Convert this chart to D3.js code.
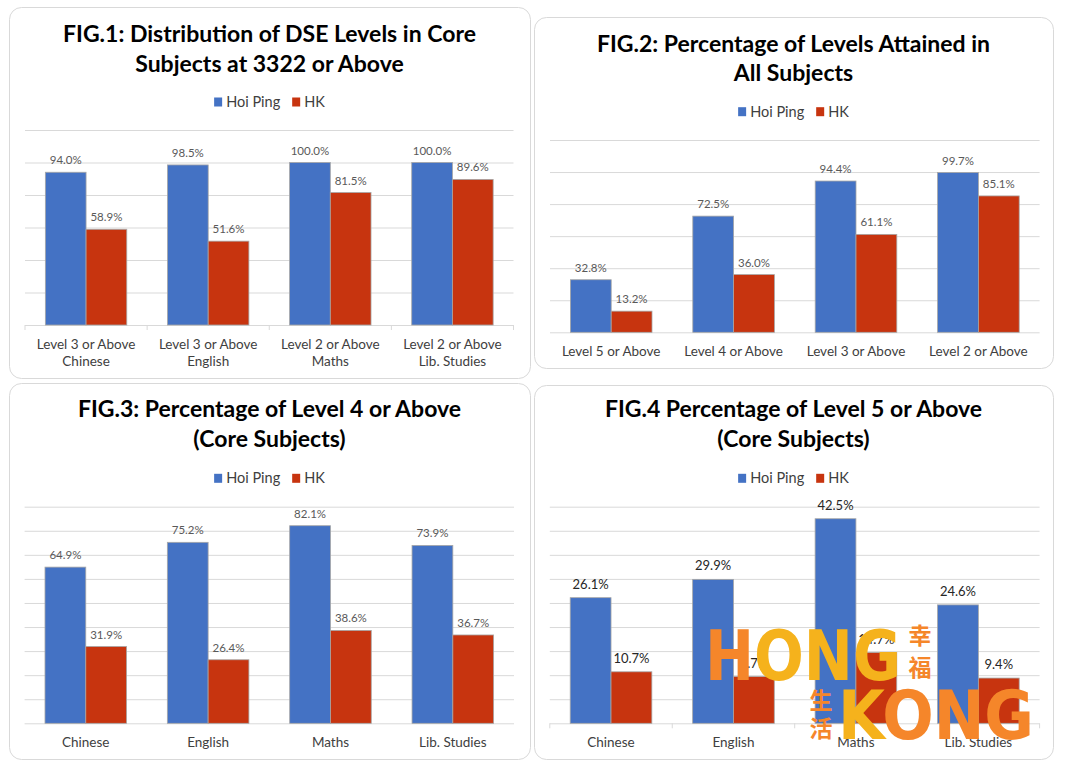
<!DOCTYPE html>
<html>
<head>
<meta charset="utf-8">
<script src="https://cdn.jsdelivr.net/npm/d3@7"></script>
<style>
  body { margin: 0; background: #fff; }
  svg { display: block; font-family: Lato, "Open Sans", sans-serif; }
</style>
</head>
<body>
<div id="chart"></div>
<script>
// ---- data ----
const seriesNames = ['Hoi Ping', 'HK'];

const fig1Categories = [
  ['Level 3 or Above', 'Chinese'],
  ['Level 3 or Above', 'English'],
  ['Level 2 or Above', 'Maths'],
  ['Level 2 or Above', 'Lib. Studies']
];
const fig1HoiPing = [94.0, 98.5, 100.0, 100.0];
const fig1HK = [58.9, 51.6, 81.5, 89.6];
const fig1Ticks = [0, 20, 40, 60, 80, 100, 120];

const fig2Categories = ['Level 5 or Above', 'Level 4 or Above', 'Level 3 or Above', 'Level 2 or Above'];
const fig2HoiPing = [32.8, 72.5, 94.4, 99.7];
const fig2HK = [13.2, 36.0, 61.1, 85.1];
const fig2Ticks = [0, 20, 40, 60, 80, 100, 120];

const subjects = ['Chinese', 'English', 'Maths', 'Lib. Studies'];
const fig3HoiPing = [64.9, 75.2, 82.1, 73.9];
const fig3HK = [31.9, 26.4, 38.6, 36.7];
const fig3Ticks = [0, 10, 20, 30, 40, 50, 60, 70, 80, 90];

const fig4HoiPing = [26.1, 29.9, 42.5, 24.6];
const fig4HK = [10.7, 9.7, 14.7, 9.4];
const fig4Ticks = [0, 5, 10, 15, 20, 25, 30, 35, 40, 45];

const BLUE = '#4472c4';
const RED = '#c7340f';

const svg = d3.select('#chart')
  .append('svg')
  .attr('width', 1065)
  .attr('height', 768);

const panels = [
  {
    box: [9, 7, 530, 378],
    title: ['FIG.1: Distribution of DSE Levels in Core', 'Subjects at 3322 or Above'],
    titleY: [41.7, 71.7], titleSize: 23,
    legendY: 102,
    plot: [25, 513.5, 130, 325],
    cats: fig1Categories, a: fig1HoiPing, b: fig1HK, ticks: fig1Ticks,
    catY: 349, catTicks: true, labelStyle: 'light'
  },
  {
    box: [534, 17, 1053, 368],
    title: ['FIG.2: Percentage of Levels Attained in', 'All Subjects'],
    titleY: [51.7, 80.7], titleSize: 23,
    legendY: 111.7,
    plot: [550, 1039.6, 140, 332.3],
    cats: fig2Categories, a: fig2HoiPing, b: fig2HK, ticks: fig2Ticks,
    catY: 355.5, catTicks: false, labelStyle: 'light'
  },
  {
    box: [9, 383, 530, 759],
    title: ['FIG.3: Percentage of Level 4 or Above', '(Core Subjects)'],
    titleY: [417, 446.7], titleSize: 23,
    legendY: 478.3,
    plot: [24.6, 514, 506.7, 723.3],
    cats: subjects, a: fig3HoiPing, b: fig3HK, ticks: fig3Ticks,
    catY: 746.8, catTicks: false, labelStyle: 'light'
  },
  {
    box: [534, 385, 1053, 759],
    title: ['FIG.4 Percentage of Level 5 or Above', '(Core Subjects)'],
    titleY: [417.3, 446.7], titleSize: 23,
    legendY: 478.3,
    plot: [549.8, 1039.6, 506.7, 723.3],
    cats: subjects, a: fig4HoiPing, b: fig4HK, ticks: fig4Ticks,
    catY: 746.8, catTicks: true, labelStyle: 'dark'
  }
];

panels.forEach(drawPanel);

function drawPanel(p) {
  const [bx0, by0, bx1, by1] = p.box;
  const g = svg.append('g');

  g.append('rect')
    .attr('x', bx0 + 0.5).attr('y', by0 + 0.5)
    .attr('width', bx1 - bx0).attr('height', by1 - by0)
    .attr('rx', 12).attr('ry', 12)
    .attr('fill', '#fff')
    .attr('stroke', '#d9d9d9')
    .attr('stroke-width', 1);

  const cx = (bx0 + bx1) / 2;

  // title
  p.title.forEach((line, i) => {
    g.append('text')
      .attr('x', cx).attr('y', p.titleY[i])
      .attr('text-anchor', 'middle')
      .attr('font-size', p.titleSize)
      .attr('font-weight', 'bold')
      .attr('fill', '#000')
      .text(line);
  });

  // legend
  const leg = g.append('g');
  let lx = 0;
  const colors = [BLUE, RED];
  seriesNames.forEach((name, i) => {
    leg.append('rect')
      .attr('x', lx).attr('y', p.legendY - 4.5)
      .attr('width', 8).attr('height', 9)
      .attr('fill', colors[i]);
    const t = leg.append('text')
      .attr('x', lx + 12).attr('y', p.legendY)
      .attr('dy', '0.35em')
      .attr('font-size', 14.5)
      .attr('fill', '#404040')
      .text(name);
    lx += 12 + t.node().getComputedTextLength() + 12;
  });
  const legW = lx - 12;
  leg.attr('transform', `translate(${cx - legW / 2},0)`);

  // scales
  const [x0, x1, yTop, yBase] = p.plot;
  const x = d3.scaleBand()
    .domain(d3.range(p.cats.length))
    .range([x0, x1])
    .padding(0);
  const xs = d3.scaleBand()
    .domain(seriesNames)
    .range([0, x.bandwidth()])
    .paddingInner(0)
    .paddingOuter(0.5);
  const y = d3.scaleLinear()
    .domain([0, d3.max(p.ticks)])
    .range([yBase, yTop]);

  // gridlines
  g.append('g')
    .attr('transform', `translate(${x0},0)`)
    .call(d3.axisLeft(y).tickValues(p.ticks).tickSize(-(x1 - x0)).tickFormat(''))
    .call(s => s.select('.domain').remove())
    .call(s => s.selectAll('line').attr('stroke', '#d9d9d9').attr('stroke-width', 1));

  // category boundary ticks
  if (p.catTicks) {
    g.append('g')
      .selectAll('line')
      .data(d3.range(p.cats.length + 1))
      .enter()
      .append('line')
      .attr('x1', d => x0 + d * x.step())
      .attr('x2', d => x0 + d * x.step())
      .attr('y1', yBase)
      .attr('y2', yBase + 5)
      .attr('stroke', '#d9d9d9');
  }

  // bars
  const series = [p.a, p.b];
  series.forEach((vals, si) => {
    const name = seriesNames[si];
    g.append('g')
      .selectAll('rect')
      .data(vals)
      .enter()
      .append('rect')
      .attr('x', (d, i) => x(i) + xs(name))
      .attr('y', d => y(d))
      .attr('width', xs.bandwidth())
      .attr('height', d => yBase - y(d))
      .attr('fill', colors[si])
      .attr('stroke', '#a6a6a6')
      .attr('stroke-width', 0.8);

    g.append('g')
      .selectAll('text')
      .data(vals)
      .enter()
      .append('text')
      .attr('x', (d, i) => x(i) + xs(name) + xs.bandwidth() / 2)
      .attr('y', d => y(d) - (p.labelStyle === 'dark' ? 9 : 8))
      .attr('text-anchor', 'middle')
      .attr('font-size', p.labelStyle === 'dark' ? 13 : 11.5)
      .attr('fill', p.labelStyle === 'dark' ? '#262626' : '#595959')
      .text(d => d.toFixed(1) + '%');
  });

  // category labels
  const labels = g.append('g')
    .selectAll('text')
    .data(p.cats)
    .enter()
    .append('text')
    .attr('x', (d, i) => x(i) + x.bandwidth() / 2)
    .attr('y', p.catY)
    .attr('text-anchor', 'middle')
    .attr('font-size', 13.5)
    .attr('fill', '#404040');
  labels.each(function (d) {
    const lines = Array.isArray(d) ? d : [d];
    const t = d3.select(this);
    lines.forEach((ln, k) => {
      t.append('tspan')
        .attr('x', t.attr('x'))
        .attr('dy', k === 0 ? 0 : 17)
        .text(ln);
    });
  });
}

// watermark logo over fig 4
const ORANGE = '#f5862a';
const YELLOW = '#f5b21c';
const logo = svg.append('g').attr('font-family', '"DejaVu Sans", sans-serif').attr('font-weight', 'bold');
const hong = logo.append('text')
  .attr('x', 705).attr('y', 680)
  .attr('font-size', 69)
  .attr('textLength', 196).attr('lengthAdjust', 'spacingAndGlyphs');
hong.append('tspan').attr('fill', ORANGE).text('H');
hong.append('tspan').attr('fill', YELLOW).text('ONG');
const kong = logo.append('text')
  .attr('x', 838).attr('y', 739)
  .attr('font-size', 67)
  .attr('textLength', 196).attr('lengthAdjust', 'spacingAndGlyphs');
kong.append('tspan').attr('fill', YELLOW).text('K');
kong.append('tspan').attr('fill', ORANGE).text('ONG');
const cjk = [['幸', 920, 644], ['福', 920, 676], ['生', 821, 709], ['活', 821, 737]];
logo.append('g')
  .selectAll('text')
  .data(cjk)
  .enter()
  .append('text')
  .attr('x', d => d[1]).attr('y', d => d[2])
  .attr('text-anchor', 'middle')
  .attr('font-family', '"Noto Sans CJK SC", sans-serif')
  .attr('font-weight', 'bold')
  .attr('font-size', 23)
  .attr('fill', ORANGE)
  .text(d => d[0]);
</script>
</body>
</html>
